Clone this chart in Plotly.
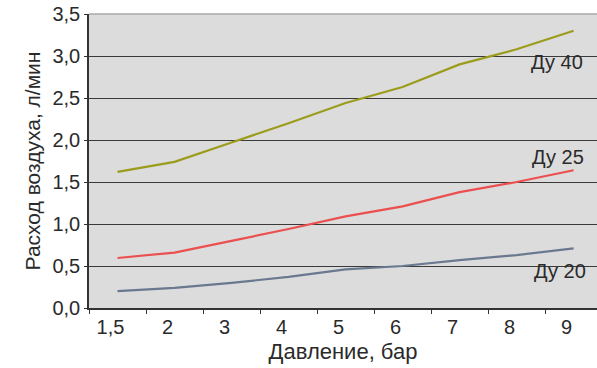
import plotly.graph_objects as go

categories = ["1,5", "2", "3", "4", "5", "6", "7", "8", "9"]
du40 = [1.62, 1.74, 1.97, 2.20, 2.44, 2.63, 2.90, 3.08, 3.30]
du25 = [0.595, 0.66, 0.80, 0.94, 1.09, 1.21, 1.38, 1.50, 1.64]
du20 = [0.20, 0.24, 0.30, 0.37, 0.46, 0.50, 0.57, 0.63, 0.71]
series_names = ["Ду 40", "Ду 25", "Ду 20"]
colors = ["#9c9c1c", "#ec4f4f", "#6a7890"]
y_ticks = [0, 0.5, 1.0, 1.5, 2.0, 2.5, 3.0, 3.5]

xpos = list(range(1, len(categories) + 1))
FONT = "Liberation Sans, Arial, sans-serif"
TXT = "#2a2a2a"

fig = go.Figure()
for name, vals, col in zip(series_names, [du40, du25, du20], colors):
    fig.add_trace(go.Scatter(x=xpos, y=vals, mode="lines", name=name,
                             line=dict(color=col, width=2.2), showlegend=False))

# series labels
label_pos = [(8.71, 2.93), (8.73, 1.80), (8.76, 0.44)]
for name, (lx, ly) in zip(series_names, label_pos):
    fig.add_annotation(x=lx, y=ly, text=name, showarrow=False,
                       font=dict(family=FONT, size=20, color=TXT))

# top border light
fig.add_shape(type="line", xref="paper", yref="paper", x0=0, x1=1, y0=1, y1=1,
              line=dict(color="#a8a8a8", width=1.5), layer="above")

fig.update_layout(
    width=597, height=368,
    margin=dict(l=89, r=0, t=14, b=60),
    paper_bgcolor="white",
    plot_bgcolor="#dcdcdc",
    separators=", ",
    font=dict(family=FONT, color=TXT),
    xaxis=dict(
        range=[0.5, 9.41],
        tickvals=xpos, ticktext=categories,
        ticks="", showgrid=False,
        showline=True, linecolor="#333333", linewidth=1.5,
        tickfont=dict(size=20, color=TXT),
        ticklabelshift=-7,
        minor=dict(tick0=0.5, dtick=1, ticks="outside", ticklen=4,
                   tickcolor="#333333", showgrid=False),
        title=dict(text="Давление, бар", font=dict(size=22, color=TXT), standoff=7),
        zeroline=False,
    ),
    yaxis=dict(
        range=[0, 3.5],
        tickvals=y_ticks, tickformat=".1f",
        ticks="outside", ticklen=3, tickcolor="#333333",
        showgrid=True, gridcolor="#3a3a3a", gridwidth=1.2,
        showline=True, linecolor="#333333", linewidth=1.5,
        tickfont=dict(size=20, color=TXT),
        title=dict(text="Расход воздуха, л/мин", font=dict(size=21, color=TXT), standoff=6),
        zeroline=False,
    ),
)

fig.write_html("out.html")
